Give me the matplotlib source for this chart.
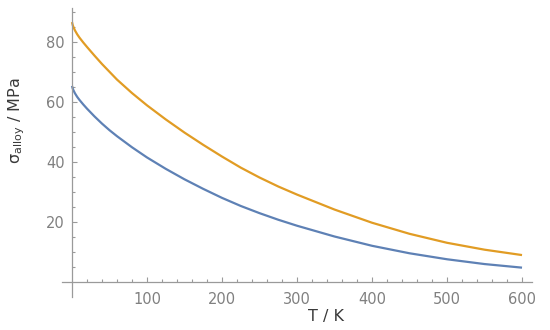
import matplotlib
matplotlib.use("Agg")
import matplotlib.pyplot as plt
from matplotlib.ticker import FixedLocator

# Datos (T en K, sigma en MPa)
T = [0, 1, 2, 4, 7, 10, 15, 20, 30, 40, 50, 60, 80, 100, 125, 150, 175,
     200, 225, 250, 275, 300, 350, 400, 450, 500, 550, 600]
sigma_alto = [86.8, 85.8, 85.1, 84.0, 82.7, 81.6, 80.0, 78.5, 75.6, 72.8,
              70.2, 67.6, 63.1, 59.0, 54.3, 49.9, 45.8, 41.9, 38.2, 34.9,
              31.9, 29.2, 24.2, 19.8, 16.1, 13.1, 10.8, 9.0]
sigma_bajo = [65.5, 64.6, 64.0, 63.0, 61.8, 60.8, 59.3, 57.9, 55.3, 52.9,
              50.7, 48.7, 45.0, 41.6, 37.8, 34.3, 31.1, 28.1, 25.4, 23.0,
              20.8, 18.8, 15.2, 12.1, 9.6, 7.6, 6.0, 4.8]

x_ticks = [100, 200, 300, 400, 500, 600]
y_ticks = [20, 40, 60, 80]

AZUL = "#5E81B5"
NARANJA = "#E19C24"
GRIS = "#9a9a9a"

fig = plt.figure(figsize=(5.5, 3.3), dpi=100)
ax = fig.add_axes([62 / 550, 33 / 330, 470 / 550, 289 / 330])

ax.plot(T, sigma_bajo, color=AZUL, linewidth=1.6, solid_capstyle="butt")
ax.plot(T, sigma_alto, color=NARANJA, linewidth=1.6, solid_capstyle="butt")

ax.set_xlim(-13.3, 613.3)
ax.set_ylim(-5, 91.5)

# ejes estilo Mathematica, cruzando en el origen
for lado in ["top", "right"]:
    ax.spines[lado].set_visible(False)
ax.spines["left"].set_position(("data", 0))
ax.spines["bottom"].set_position(("data", 0))
for lado in ["left", "bottom"]:
    ax.spines[lado].set_color(GRIS)
    ax.spines[lado].set_linewidth(0.9)

ax.xaxis.set_major_locator(FixedLocator(x_ticks))
ax.yaxis.set_major_locator(FixedLocator(y_ticks))
ax.xaxis.set_minor_locator(FixedLocator(range(20, 601, 20)))
ax.yaxis.set_minor_locator(FixedLocator(range(5, 91, 5)))

ax.tick_params(which="both", direction="in", color=GRIS, width=0.8,
               labelcolor="#808080", labelsize=10.5)
ax.tick_params(which="major", length=3.5)
ax.tick_params(which="minor", length=2)
ax.tick_params(axis="x", which="major", pad=7)
ax.tick_params(axis="y", which="major", pad=5)

fig.text(326 / 550, 1 - 316 / 330, "T / K", ha="center", va="center",
         fontsize=11.5, color="#3a3a3a")
fig.text(17 / 550, 1 - 121 / 330, r"σ$_{\mathrm{alloy}}$ / MPa",
         ha="center", va="center", rotation=90, fontsize=11.5,
         color="#3a3a3a")

fig.savefig("out.png", dpi=100)
